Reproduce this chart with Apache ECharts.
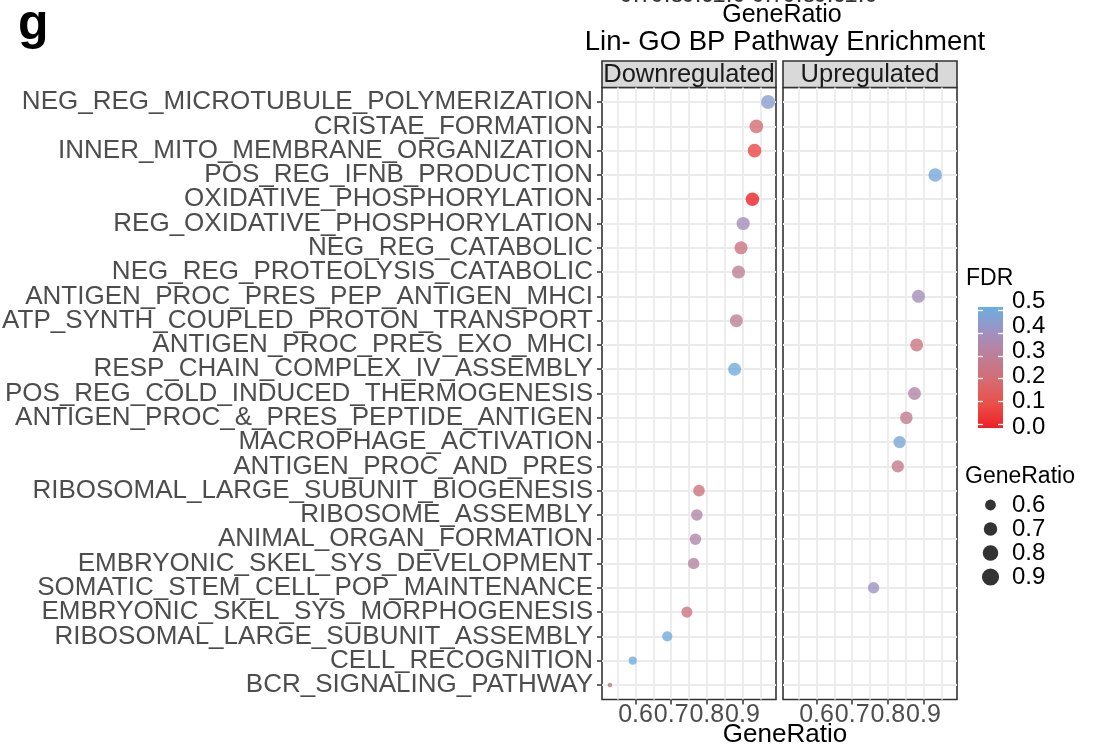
<!DOCTYPE html>
<html>
<head>
<meta charset="utf-8">
<script src="https://cdn.jsdelivr.net/npm/echarts@6.0.0/dist/echarts.min.js"></script>
<style>
html, body { margin: 0; padding: 0; background: #fff; }
#chart { width: 1093px; height: 747px; }
</style>
</head>
<body>
<div id="chart"></div>
<script>
// pathway names, top to bottom
var categories = [
  'NEG_REG_MICROTUBULE_POLYMERIZATION', 'CRISTAE_FORMATION', 'INNER_MITO_MEMBRANE_ORGANIZATION',
  'POS_REG_IFNB_PRODUCTION', 'OXIDATIVE_PHOSPHORYLATION', 'REG_OXIDATIVE_PHOSPHORYLATION',
  'NEG_REG_CATABOLIC', 'NEG_REG_PROTEOLYSIS_CATABOLIC', 'ANTIGEN_PROC_PRES_PEP_ANTIGEN_MHCI',
  'ATP_SYNTH_COUPLED_PROTON_TRANSPORT', 'ANTIGEN_PROC_PRES_EXO_MHCI', 'RESP_CHAIN_COMPLEX_IV_ASSEMBLY',
  'POS_REG_COLD_INDUCED_THERMOGENESIS', 'ANTIGEN_PROC_&_PRES_PEPTIDE_ANTIGEN', 'MACROPHAGE_ACTIVATION',
  'ANTIGEN_PROC_AND_PRES', 'RIBOSOMAL_LARGE_SUBUNIT_BIOGENESIS', 'RIBOSOME_ASSEMBLY',
  'ANIMAL_ORGAN_FORMATION', 'EMBRYONIC_SKEL_SYS_DEVELOPMENT', 'SOMATIC_STEM_CELL_POP_MAINTENANCE',
  'EMBRYONIC_SKEL_SYS_MORPHOGENESIS', 'RIBOSOMAL_LARGE_SUBUNIT_ASSEMBLY', 'CELL_RECOGNITION',
  'BCR_SIGNALING_PATHWAY'
];

// Downregulated panel (null = no point)
var downRatio = [0.972, 0.939, 0.934, null, 0.928, 0.902, 0.896, 0.889, null, 0.883, null, 0.878,
  null, null, null, null, 0.778, 0.772, 0.768, 0.763, null, 0.744, 0.689, 0.592, 0.528];
var downFDR = [0.44, 0.20, 0.08, null, 0.005, 0.38, 0.24, 0.30, null, 0.30, null, 0.49,
  null, null, null, null, 0.22, 0.34, 0.34, 0.33, null, 0.24, 0.49, 0.49, 0.22];

// Upregulated panel
var upRatio = [null, null, null, 0.933, null, null, null, null, 0.886, null, 0.881, null,
  0.875, 0.852, 0.833, 0.828, null, null, null, null, 0.760, null, null, null, null];
var upFDR = [null, null, null, 0.48, null, null, null, null, 0.38, null, 0.24, null,
  0.33, 0.28, 0.47, 0.27, null, null, null, null, 0.40, null, null, null, null];

var xMajorTicks = [0.6, 0.7, 0.8, 0.9];
var xGridTicks = [0.55, 0.6, 0.65, 0.7, 0.75, 0.8, 0.85, 0.9, 0.95];
var sizeBreaks = [0.6, 0.7, 0.8, 0.9];
var topCutLabels = ['0.7', '0.8', '0.9', '1.0'];

var FONT = 'Liberation Sans';
var fdrColors = ['#EE1F26', '#E9504A', '#D56C72', '#BD7F97', '#9E92C2', '#6BAEE0']; // FDR 0 -> 0.5

var allRatios = downRatio.concat(upRatio).filter(function (v) { return v !== null; });
var rMin = Math.min.apply(null, allRatios);
var rMax = Math.max.apply(null, allRatios);
var xMin = rMin - 0.05 * (rMax - rMin);
var xMax = rMax + 0.05 * (rMax - rMin);
var rowIdx = categories.map(function (c, i) { return i; });

// panel geometry (ggplot-style 0.6 expansion on the discrete axis)
var PANEL_TOP = 87.5, PANEL_H = 612, EXPAND = 0.6;
var band = PANEL_H / (categories.length - 1 + 2 * EXPAND);

function dotSize(r) {
  return 4.5 + 9.5 * Math.sqrt(Math.max(0, (r - rMin) / (rMax - rMin)));
}

function panelData(ratios, fdrs) {
  var out = [];
  ratios.forEach(function (r, i) {
    if (r !== null) out.push([r, i, fdrs[i]]);
  });
  return out;
}

function gridAxisX(gi) {
  return {
    gridIndex: gi, type: 'value', min: xMin, max: xMax,
    axisLine: { show: false },
    axisTick: { show: false, customValues: xGridTicks },
    axisLabel: { show: false },
    splitLine: { show: true, customValues: xGridTicks, lineStyle: { color: '#EBEBEB', width: 1.8 } }
  };
}
function labelAxisX(gi) {
  return {
    gridIndex: gi, type: 'value', min: xMin, max: xMax, position: 'bottom',
    axisLine: { show: false },
    axisTick: { show: true, length: 5, customValues: xMajorTicks, lineStyle: { color: '#333', width: 1.5 } },
    axisLabel: { customValues: xMajorTicks, fontSize: 25, color: '#4D4D4D', margin: 3, fontFamily: FONT,
      hideOverlap: false, formatter: function (v) { return v.toFixed(1); } },
    splitLine: { show: false }
  };
}
function panelAxisY(gi) {
  return {
    gridIndex: gi, type: 'value', inverse: true, min: -EXPAND, max: categories.length - 1 + EXPAND,
    axisLine: { show: false },
    axisTick: { show: false, customValues: rowIdx },
    axisLabel: { show: false },
    splitLine: { show: true, customValues: rowIdx, lineStyle: { color: '#EBEBEB', width: 1.8 } }
  };
}
function hiddenX(gi) {
  return { gridIndex: gi, type: 'value', min: 0, max: 1, show: false };
}

var panelGrid = { top: PANEL_TOP, width: 174, height: PANEL_H, show: true, borderColor: '#333', borderWidth: 1.6,
  backgroundColor: '#fff', outerBoundsMode: 'none', containLabel: false };

var myChart = echarts.init(document.getElementById('chart'));
var option = {
  backgroundColor: '#fff',
  animation: false,
  textStyle: { fontFamily: FONT },
  grid: [
    Object.assign({ left: 602 }, panelGrid),
    Object.assign({ left: 783 }, panelGrid),
    { left: 978, top: 310.7, width: 25, height: 113.3, outerBoundsMode: 'none' }, // colour bar ticks
    { left: 978, top: 301, width: 25, height: 126, outerBoundsMode: 'none' },     // colour bar labels
    { left: 978, top: 493, width: 25, height: 96, outerBoundsMode: 'none' },      // size legend
    // pathway labels: category bands centred on the panel rows
    { left: 602, width: 174, top: PANEL_TOP + (EXPAND - 0.5) * band, height: categories.length * band,
      outerBoundsMode: 'none' }
  ],
  xAxis: [gridAxisX(0), labelAxisX(0), gridAxisX(1), labelAxisX(1), hiddenX(2), hiddenX(3), hiddenX(4), hiddenX(5)],
  yAxis: [
    panelAxisY(0),
    panelAxisY(1),
    { gridIndex: 2, type: 'value', min: 0, max: 0.5, interval: 0.1, position: 'left', z: 10,
      axisLine: { show: false }, axisLabel: { show: false }, splitLine: { show: false },
      axisTick: { inside: true, length: 5, lineStyle: { color: '#fff', width: 1.3 } } },
    { gridIndex: 2, type: 'value', min: 0, max: 0.5, interval: 0.1, position: 'right', z: 10,
      axisLine: { show: false }, axisLabel: { show: false }, splitLine: { show: false },
      axisTick: { inside: true, length: 5, lineStyle: { color: '#fff', width: 1.3 } } },
    { gridIndex: 3, type: 'value', min: 0, max: 0.5, interval: 0.1, position: 'right',
      axisLine: { show: false }, axisTick: { show: false }, splitLine: { show: false },
      axisLabel: { fontSize: 24, color: '#000', margin: 9, fontFamily: FONT, hideOverlap: false,
        showMinLabel: true, showMaxLabel: true,
        formatter: function (v) { return v.toFixed(1); } } },
    { gridIndex: 4, type: 'category', inverse: true, position: 'right',
      data: sizeBreaks.map(function (v) { return v.toFixed(1); }),
      axisLine: { show: false }, axisTick: { show: false }, splitLine: { show: false },
      axisLabel: { interval: 0, fontSize: 24, color: '#000', margin: 9, fontFamily: FONT } },
    { gridIndex: 5, type: 'category', inverse: true, position: 'left', data: categories,
      axisLine: { show: false }, splitLine: { show: false },
      axisTick: { show: true, interval: 0, alignWithLabel: true, length: 5, lineStyle: { color: '#333', width: 1.5 } },
      axisLabel: { interval: 0, fontSize: 26, color: '#4D4D4D', margin: 9, fontFamily: FONT } }
  ],
  visualMap: {
    type: 'continuous', show: false, min: 0, max: 0.5, dimension: 2, seriesIndex: [0, 1],
    inRange: { color: fdrColors }
  },
  series: [
    { name: 'Downregulated', type: 'scatter', xAxisIndex: 0, yAxisIndex: 0,
      symbolSize: function (d) { return dotSize(d[0]); }, data: panelData(downRatio, downFDR) },
    { name: 'Upregulated', type: 'scatter', xAxisIndex: 2, yAxisIndex: 1,
      symbolSize: function (d) { return dotSize(d[0]); }, data: panelData(upRatio, upFDR) },
    { name: 'GeneRatio', type: 'scatter', xAxisIndex: 6, yAxisIndex: 5, itemStyle: { color: '#000' },
      symbolSize: function (d) { return dotSize(d[2]) * 1.3; },
      data: sizeBreaks.map(function (v, i) { return [0.5, i, v]; }) }
  ],
  graphic: [
    // FDR colour bar
    { type: 'rect', z: 1, shape: { x: 978, y: 307, width: 25, height: 121 },
      style: { fill: new echarts.graphic.LinearGradient(0, 0, 0, 1, fdrColors.slice().reverse().map(function (c, i, a) {
        return { offset: i / (a.length - 1), color: c };
      })) } },
    { type: 'text', left: 18, top: 0, style: { text: 'g', font: 'bold 50px ' + FONT, fill: '#000' } },
    { type: 'text', x: 782, y: 15, style: { text: 'GeneRatio', font: '25px ' + FONT, fill: '#000', align: 'center', verticalAlign: 'middle' } },
    { type: 'text', x: 785, y: 42, style: { text: 'Lin- GO BP Pathway Enrichment', font: '27.5px ' + FONT, fill: '#000', align: 'center', verticalAlign: 'middle' } },
    { type: 'rect', shape: { x: 602, y: 61, width: 174, height: 26.5 }, style: { fill: '#D9D9D9', stroke: '#333', lineWidth: 1.6 } },
    { type: 'text', x: 689, y: 75, style: { text: 'Downregulated', font: '25.5px ' + FONT, fill: '#1A1A1A', align: 'center', verticalAlign: 'middle' } },
    { type: 'rect', shape: { x: 783, y: 61, width: 174, height: 26.5 }, style: { fill: '#D9D9D9', stroke: '#333', lineWidth: 1.6 } },
    { type: 'text', x: 870, y: 75, style: { text: 'Upregulated', font: '25.5px ' + FONT, fill: '#1A1A1A', align: 'center', verticalAlign: 'middle' } },
    { type: 'text', x: 785, y: 735, style: { text: 'GeneRatio', font: '26px ' + FONT, fill: '#000', align: 'center', verticalAlign: 'middle' } },
    { type: 'text', x: 966, y: 279, style: { text: 'FDR', font: '23px ' + FONT, fill: '#000', verticalAlign: 'middle' } },
    { type: 'text', x: 965, y: 477, style: { text: 'GeneRatio', font: '23px ' + FONT, fill: '#000', verticalAlign: 'middle' } }
  ].concat(topCutLabels.map(function (t, i) {
    return { type: 'text', x: 636 + i * 31, y: -5, style: { text: t, font: '24px ' + FONT, fill: '#333', align: 'center', verticalAlign: 'middle' } };
  })).concat(topCutLabels.map(function (t, i) {
    return { type: 'text', x: 768 + i * 31, y: -5, style: { text: t, font: '24px ' + FONT, fill: '#333', align: 'center', verticalAlign: 'middle' } };
  }))
};
myChart.setOption(option);
window.addEventListener('resize', function () {
  myChart.resize();
});
</script>
</body>
</html>
